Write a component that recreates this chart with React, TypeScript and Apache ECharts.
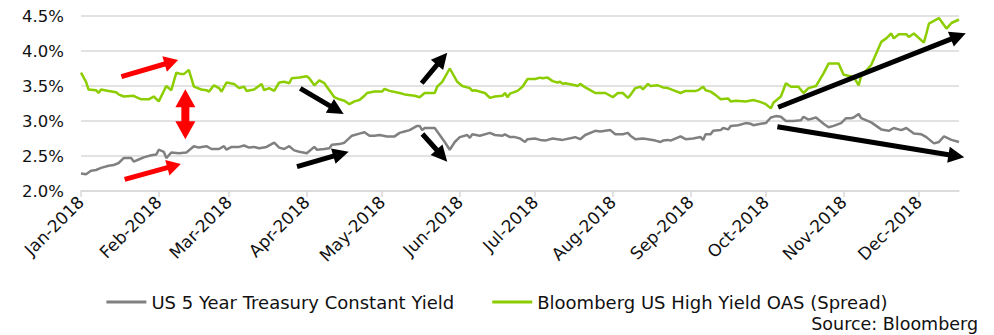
import React, { useEffect, useRef } from "react";
import * as echarts from "echarts";

// ---- Axis definitions ----
const monthLabels = [
  "Jan-2018", "Feb-2018", "Mar-2018", "Apr-2018", "May-2018", "Jun-2018",
  "Jul-2018", "Aug-2018", "Sep-2018", "Oct-2018", "Nov-2018", "Dec-2018",
];
// day-of-year (Jan 1 = 0) of each month start
const monthStartDays = [0, 31, 59, 90, 120, 151, 181, 212, 243, 273, 304, 334];
const axisEndDay = 350; // Dec 17, 2018
const yMin = 2.0;
const yMax = 4.5;
const yStep = 0.5;

// ---- Series: US 5 Year Treasury Constant Yield (%) ----
const treasuryDays = [
  0, 2, 4, 6, 8, 11, 13, 15, 17, 20,
  21, 23, 25, 28, 30, 31, 33, 34, 36, 39,
  42, 45, 47, 50, 52, 55, 57, 58, 60, 63,
  65, 67, 69, 71, 74, 77, 79, 81, 83, 85,
  87, 90, 93, 94, 97, 99, 100, 103, 105, 108,
  111, 113, 115, 117, 119, 122, 125, 127, 129, 131,
  134, 135, 136, 137, 141, 142, 145, 147, 149, 151,
  154, 155, 156, 159, 163, 165, 168, 169, 171, 173,
  175, 177, 178, 181, 183, 185, 188, 190, 192, 196,
  197, 199, 201, 205, 207, 211, 213, 216, 218, 219,
  221, 224, 226, 229, 231, 232, 234, 235, 239, 241,
  244, 247, 248, 249, 251, 252, 255, 256, 258, 259,
  262, 265, 267, 268, 271, 273, 275, 277, 279, 281,
  284, 287, 288, 290, 293, 296, 298, 300, 303, 305,
  307, 308, 310, 311, 315, 319, 322, 324, 327, 329,
  332, 335, 337, 340, 342, 344, 347, 350,
];
const treasuryValues = [
  2.25, 2.24, 2.29, 2.30, 2.33, 2.36, 2.37, 2.40, 2.47, 2.47,
  2.42, 2.45, 2.48, 2.51, 2.52, 2.59, 2.56, 2.47, 2.55, 2.54,
  2.55, 2.64, 2.62, 2.64, 2.60, 2.60, 2.64, 2.59, 2.63, 2.63,
  2.65, 2.62, 2.63, 2.61, 2.63, 2.69, 2.62, 2.60, 2.64, 2.58,
  2.56, 2.54, 2.63, 2.59, 2.60, 2.61, 2.66, 2.67, 2.69, 2.79,
  2.82, 2.84, 2.79, 2.79, 2.80, 2.78, 2.78, 2.83, 2.85, 2.87,
  2.93, 2.93, 2.87, 2.90, 2.90, 2.85, 2.70, 2.59, 2.70, 2.77,
  2.80, 2.76, 2.81, 2.79, 2.83, 2.80, 2.79, 2.81, 2.77, 2.77,
  2.75, 2.70, 2.74, 2.75, 2.73, 2.72, 2.75, 2.74, 2.73, 2.76,
  2.77, 2.74, 2.80, 2.86, 2.85, 2.87, 2.81, 2.81, 2.83, 2.79,
  2.74, 2.75, 2.74, 2.72, 2.70, 2.72, 2.73, 2.72, 2.78, 2.74,
  2.75, 2.77, 2.73, 2.81, 2.81, 2.86, 2.87, 2.90, 2.88, 2.93,
  2.94, 2.97, 2.96, 2.94, 2.96, 2.97, 3.05, 3.07, 3.06, 3.00,
  3.00, 3.01, 3.06, 3.02, 3.05, 2.96, 2.91, 2.93, 2.97, 3.04,
  3.04, 3.05, 3.10, 3.04, 2.98, 2.88, 2.86, 2.90, 2.87, 2.90,
  2.82, 2.81, 2.77, 2.68, 2.70, 2.78, 2.73, 2.70,
];

// ---- Series: Bloomberg US High Yield OAS (Spread) (%) ----
const spreadDays = [
  0, 2, 3, 6, 7, 8, 11, 14, 15, 17,
  21, 22, 24, 27, 29, 31, 34, 36, 38, 40,
  41, 43, 44, 45, 48, 50, 51, 53, 55, 56,
  58, 61, 63, 65, 66, 69, 72, 73, 75, 77,
  79, 81, 83, 84, 87, 90, 91, 93, 95, 97,
  99, 101, 103, 105, 107, 109, 111, 113, 114, 117,
  120, 121, 123, 127, 129, 133, 135, 137, 141, 142,
  144, 147, 150, 152, 155, 156, 157, 161, 163, 165,
  168, 169, 170, 171, 174, 176, 178, 181, 183, 184,
  186, 188, 190, 191, 192, 193, 197, 198, 199, 201,
  203, 205, 209, 212, 214, 216, 218, 219, 221, 223,
  224, 226, 227, 230, 232, 234, 236, 239, 241, 245,
  246, 248, 249, 251, 253, 255, 258, 259, 261, 265,
  268, 271, 273, 275, 276, 279, 281, 283, 286, 288,
  290, 293, 296, 298, 302, 304, 308, 310, 311, 315,
  319, 321, 323, 324, 326, 329, 330, 332, 336, 337,
  338, 342, 345, 347, 350,
];
const spreadValues = [
  3.69, 3.56, 3.45, 3.44, 3.40, 3.45, 3.43, 3.41, 3.38, 3.35,
  3.36, 3.34, 3.31, 3.31, 3.35, 3.28, 3.50, 3.44, 3.69, 3.67,
  3.67, 3.73, 3.61, 3.49, 3.45, 3.44, 3.42, 3.51, 3.47, 3.42,
  3.55, 3.53, 3.47, 3.49, 3.43, 3.45, 3.53, 3.44, 3.47, 3.43,
  3.55, 3.56, 3.54, 3.61, 3.62, 3.64, 3.61, 3.51, 3.58, 3.54,
  3.44, 3.34, 3.31, 3.29, 3.24, 3.28, 3.30, 3.36, 3.40, 3.42,
  3.42, 3.46, 3.43, 3.40, 3.38, 3.36, 3.34, 3.40, 3.40, 3.49,
  3.56, 3.75, 3.56, 3.50, 3.47, 3.43, 3.44, 3.40, 3.33, 3.35,
  3.36, 3.40, 3.34, 3.39, 3.43, 3.49, 3.60, 3.60, 3.62, 3.61,
  3.62, 3.57, 3.55, 3.56, 3.53, 3.54, 3.51, 3.50, 3.53, 3.48,
  3.44, 3.40, 3.40, 3.34, 3.40, 3.40, 3.33, 3.37, 3.47, 3.49,
  3.45, 3.53, 3.50, 3.51, 3.48, 3.47, 3.44, 3.40, 3.43, 3.43,
  3.44, 3.49, 3.44, 3.42, 3.37, 3.31, 3.32, 3.28, 3.29, 3.28,
  3.30, 3.27, 3.24, 3.18, 3.26, 3.35, 3.54, 3.49, 3.49, 3.40,
  3.47, 3.50, 3.68, 3.82, 3.82, 3.66, 3.63, 3.51, 3.64, 3.80,
  4.13, 4.18, 4.25, 4.18, 4.24, 4.24, 4.20, 4.25, 4.12, 4.25,
  4.39, 4.47, 4.32, 4.40, 4.45,
];

const seriesNames = [
  "US 5 Year Treasury Constant Yield",
  "Bloomberg US High Yield OAS (Spread)",
];
const sourceText = "Source: Bloomberg";

// ---- Annotation arrows, in data coordinates [day, %] ----
const redArrows = [
  { from: [16.1, 3.633], to: [38.7, 3.871] },
  { from: [17.4, 2.167], to: [39.8, 2.386] },
];
const redDoubleArrow = { from: [41.6, 3.453], to: [41.6, 2.739] };
const blackArrows = [
  { from: [87.4, 3.467], to: [104.7, 3.1] },
  { from: [86.1, 2.347], to: [106.7, 2.561] },
  { from: [135.8, 3.539], to: [146.0, 3.976] },
  { from: [136.1, 2.814], to: [146.0, 2.419] },
  { from: [277.9, 3.196], to: [352.7, 4.253] },
  { from: [277.6, 2.919], to: [352.1, 2.481] },
];

const FONT = "DejaVu Sans";
const GRAY = "#808080";
const GREEN = "#8ccd00";
const GRID = "#d9d9d9";

function arrowPoints(p0: number[], p1: number[], w: number, hw: number, hl: number) {
  const dx = p1[0] - p0[0];
  const dy = p1[1] - p0[1];
  const len = Math.hypot(dx, dy);
  const ux = dx / len, uy = dy / len;
  const nx = -uy, ny = ux;
  const bx = p1[0] - ux * hl, by = p1[1] - uy * hl;
  return [
    [p0[0] + nx * w / 2, p0[1] + ny * w / 2],
    [bx + nx * w / 2, by + ny * w / 2],
    [bx + nx * hw / 2, by + ny * hw / 2],
    [p1[0], p1[1]],
    [bx - nx * hw / 2, by - ny * hw / 2],
    [bx - nx * w / 2, by - ny * w / 2],
    [p0[0] - nx * w / 2, p0[1] - ny * w / 2],
  ];
}

function doubleArrowPoints(t0: number[], t1: number[], w: number, hw: number, hl: number) {
  const dx = t1[0] - t0[0];
  const dy = t1[1] - t0[1];
  const len = Math.hypot(dx, dy);
  const ux = dx / len, uy = dy / len;
  const nx = -uy, ny = ux;
  const b0 = [t0[0] + ux * hl, t0[1] + uy * hl];
  const b1 = [t1[0] - ux * hl, t1[1] - uy * hl];
  return [
    [t0[0], t0[1]],
    [b0[0] + nx * hw / 2, b0[1] + ny * hw / 2],
    [b0[0] + nx * w / 2, b0[1] + ny * w / 2],
    [b1[0] + nx * w / 2, b1[1] + ny * w / 2],
    [b1[0] + nx * hw / 2, b1[1] + ny * hw / 2],
    [t1[0], t1[1]],
    [b1[0] - nx * hw / 2, b1[1] - ny * hw / 2],
    [b1[0] - nx * w / 2, b1[1] - ny * w / 2],
    [b0[0] - nx * w / 2, b0[1] - ny * w / 2],
    [b0[0] - nx * hw / 2, b0[1] - ny * hw / 2],
  ];
}

export default function App() {
  const ref = useRef<HTMLDivElement>(null);

  useEffect(() => {
    document.body.style.margin = "0";
    if (!ref.current) return;
    const chart = echarts.init(ref.current, null, { renderer: "svg" });

    const treasuryData = treasuryDays.map((d, i) => [d, treasuryValues[i]]);
    const spreadData = spreadDays.map((d, i) => [d, spreadValues[i]]);

    chart.setOption({
      animation: false,
      backgroundColor: "#ffffff",
      textStyle: { fontFamily: FONT },
      grid: { left: 81, right: 35, top: 16, bottom: 144 },
      legend: {
        left: "center",
        top: 288,
        icon: "rect",
        itemWidth: 40,
        itemHeight: 3,
        itemGap: 38,
        textStyle: { fontFamily: FONT, fontSize: 18, color: "#111" },
        data: [
          { name: seriesNames[0], itemStyle: { color: GRAY } },
          { name: seriesNames[1], itemStyle: { color: GREEN } },
        ],
      },
      xAxis: {
        type: "value",
        min: 0,
        max: axisEndDay,
        axisLine: { show: true, lineStyle: { color: GRID, width: 1.5 } },
        axisTick: {
          show: true,
          length: 6,
          lineStyle: { color: GRID, width: 1.5 },
          customValues: monthStartDays,
        },
        splitLine: { show: false },
        axisLabel: {
          customValues: monthStartDays,
          rotate: 45,
          margin: 8,
          fontFamily: FONT,
          fontSize: 17,
          color: "#111",
          formatter: (v: number) => {
            const i = monthStartDays.indexOf(Math.round(v));
            return i >= 0 ? monthLabels[i] : "";
          },
        },
      },
      yAxis: {
        type: "value",
        min: yMin,
        max: yMax,
        interval: yStep,
        axisLine: { show: false },
        axisTick: { show: false },
        splitLine: { show: true, lineStyle: { color: GRID, width: 1.5 } },
        axisLabel: {
          margin: 17,
          fontFamily: FONT,
          fontSize: 16.5,
          color: "#111",
          formatter: (v: number) => v.toFixed(1) + "%",
        },
      },
      series: [
        {
          name: seriesNames[0],
          type: "line",
          data: treasuryData,
          showSymbol: false,
          symbol: "none",
          lineStyle: { color: GRAY, width: 2.5 },
          itemStyle: { color: GRAY },
        },
        {
          name: seriesNames[1],
          type: "line",
          data: spreadData,
          showSymbol: false,
          symbol: "none",
          lineStyle: { color: GREEN, width: 2.5 },
          itemStyle: { color: GREEN },
        },
      ],
    });

    const toPx = (p: number[]) =>
      chart.convertToPixel({ gridIndex: 0 }, p) as unknown as number[];

    const graphics: any[] = [];
    redArrows.forEach((a) => {
      graphics.push({
        type: "polygon",
        z: 100,
        shape: { points: arrowPoints(toPx(a.from), toPx(a.to), 5, 16, 14) },
        style: { fill: "#ff0000" },
      });
    });
    graphics.push({
      type: "polygon",
      z: 100,
      shape: {
        points: doubleArrowPoints(toPx(redDoubleArrow.from), toPx(redDoubleArrow.to), 8, 20, 18),
      },
      style: { fill: "#ff0000" },
    });
    blackArrows.forEach((a) => {
      graphics.push({
        type: "polygon",
        z: 100,
        shape: { points: arrowPoints(toPx(a.from), toPx(a.to), 5, 16, 16) },
        style: { fill: "#000000" },
      });
    });
    graphics.push({
      type: "text",
      right: 16,
      top: 315,
      style: { text: sourceText, fontFamily: FONT, fontSize: 17.5, fill: "#111" },
    });

    chart.setOption({ graphic: graphics });

    return () => {
      chart.dispose();
    };
  }, []);

  return <div ref={ref} style={{ width: 994, height: 335 }} />;
}
